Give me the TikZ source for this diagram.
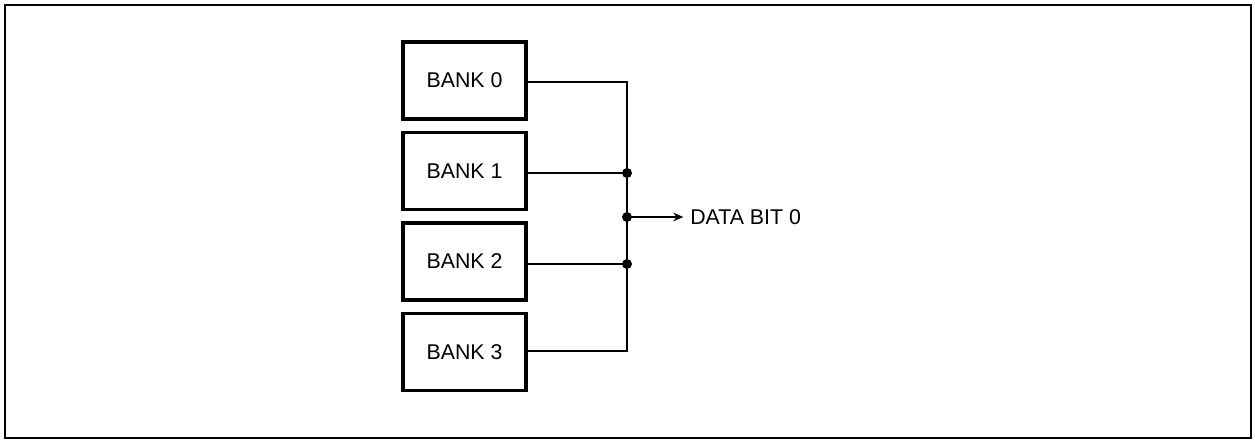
\documentclass[tikz,border=0pt]{standalone}
\usepackage{fontspec}
\setmainfont{Liberation Sans}
\usetikzlibrary{arrows.meta}
\begin{document}
\begin{tikzpicture}[x=0.75pt,y=-0.75pt,
  bankbox/.style={draw, line width=2.6pt, minimum width=92pt, minimum height=57.5pt, inner sep=0pt, font=\fontsize{16}{19}\selectfont},
  wire/.style={line width=1.4pt},
  junction/.style={circle, fill=black, inner sep=0pt, minimum size=7.5pt},
  label/.style={font=\fontsize{16}{19}\selectfont, inner sep=0pt, anchor=west}]
\useasboundingbox (0,0) rectangle (1255,440);
\draw[line width=1.6pt] (5,5) rectangle (1251,438);
\node[bankbox] (b0) at (464.5,80.5) {BANK 0};
\node[bankbox] (b1) at (464.5,171) {BANK 1};
\node[bankbox] (b2) at (464.5,261.5) {BANK 2};
\node[bankbox] (b3) at (464.5,352) {BANK 3};
\coordinate (top) at (627,82);
\coordinate (c1) at (627,173);
\coordinate (mid) at (627,217);
\coordinate (c2) at (627,264);
\coordinate (bot) at (627,351);
\node[label] (out) at (690,217) {DATA BIT 0};
\draw[wire] (b0.east |- top) -- (top) -- (bot) -- (b3.east |- bot);
\draw[wire] (b1.east |- c1) -- (c1);
\draw[wire] (b2.east |- c2) -- (c2);
\node[junction] (j1) at (c1) {};
\node[junction] (j2) at (c2) {};
\node[junction] (jm) at (mid) {};
\draw[wire, -{Stealth[length=7.5pt,width=6.5pt]}] (jm.center) -- ([xshift=-5pt]out.west);
\end{tikzpicture}
\end{document}
